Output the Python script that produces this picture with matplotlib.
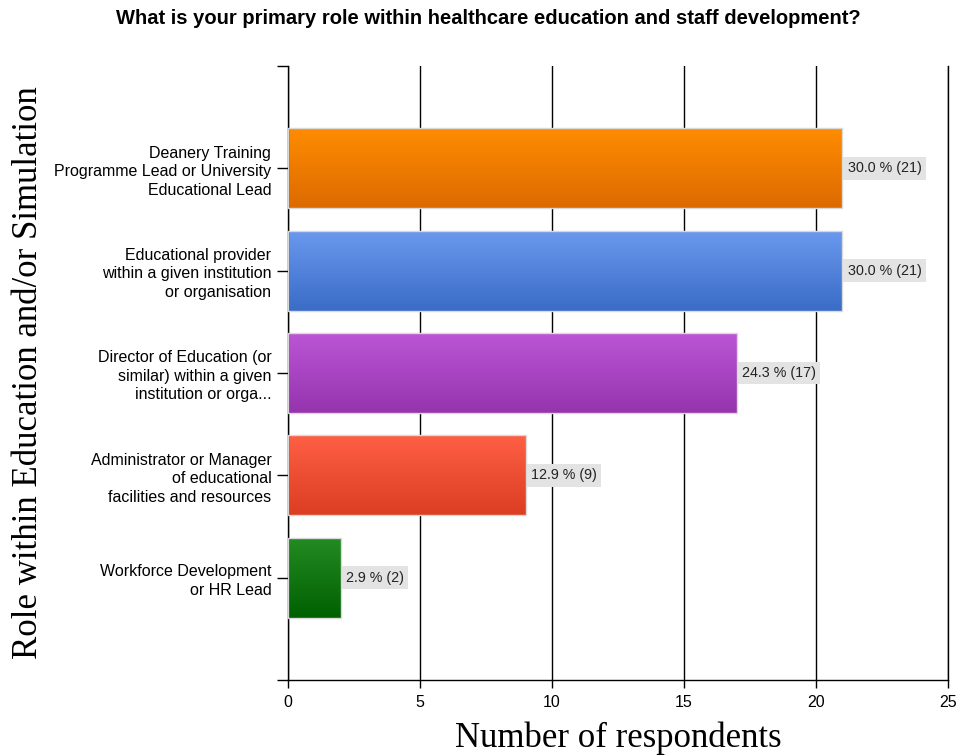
import numpy as np
import matplotlib.pyplot as plt
from matplotlib.colors import LinearSegmentedColormap

roles = [
    "Deanery Training\nProgramme Lead or University\nEducational Lead",
    "Educational provider\nwithin a given institution\nor organisation",
    "Director of Education (or\nsimilar) within a given\ninstitution or orga...",
    "Administrator or Manager\nof educational\nfacilities and resources",
    "Workforce Development\nor HR Lead",
]
counts = [21, 21, 17, 9, 2]
percents = [30.0, 30.0, 24.3, 12.9, 2.9]
# top / bottom shade of each bar
shades = [
    ("#ff8c00", "#dd6a00"),
    ("#6a98ee", "#3a6cc6"),
    ("#bb55d5", "#9534ad"),
    ("#fe5f45", "#db3e22"),
    ("#238b23", "#006000"),
]

fig = plt.figure(figsize=(9.6, 7.55), dpi=100)
ax = fig.add_axes([288 / 960, 1 - 680 / 755, 660 / 960, 614 / 755])

ypos = np.arange(1, len(roles) + 1)
bars = ax.barh(ypos, counts, height=0.78, facecolor="none",
               edgecolor="#d9d9d9", linewidth=1.0, zorder=3)

for bar, (top, bottom) in zip(bars, shades):
    x0, y0 = bar.get_x(), bar.get_y()
    w, h = bar.get_width(), bar.get_height()
    cmap = LinearSegmentedColormap.from_list("g", [top, bottom])
    grad = np.linspace(0, 1, 256).reshape(-1, 1)
    im = ax.imshow(grad, cmap=cmap, aspect="auto", origin="lower",
                   extent=(x0, x0 + w, y0, y0 + h), zorder=2)
    im.set_clip_path(bar)

for y, c, p in zip(ypos, counts, percents):
    ax.text(c + 0.2, y, f"{p:.1f} % ({c})", va="center", ha="left",
            fontsize=10.3, family="Liberation Sans", color="#222222",
            bbox=dict(boxstyle="square,pad=0.3", fc="#e3e3e3", ec="none"),
            zorder=4)

ax.set_xlim(0, 25)
ax.set_ylim(6, 0)
ax.set_xticks(range(0, 26, 5))
ax.set_yticks(ypos)
ax.set_yticklabels(roles, family="Liberation Sans", fontsize=11.5,
                   linespacing=1.3)
ax.set_yticks([0, 6], minor=True)
ax.tick_params(axis="y", which="both", length=8, width=1, pad=4)
ax.tick_params(axis="x", length=6, width=1, labelsize=11.5, pad=5)
for lbl in ax.get_xticklabels():
    lbl.set_family("Liberation Sans")

ax.grid(axis="x", color="black", linewidth=1, zorder=1)
ax.spines["top"].set_visible(False)
for side in ["left", "right", "bottom"]:
    ax.spines[side].set_linewidth(1)
    ax.spines[side].set_color("black")

ax.set_xlabel("Number of respondents", family="Liberation Serif",
              fontsize=25, labelpad=8)
ax.set_ylabel("Role within Education and/or Simulation",
              family="Liberation Serif", fontsize=25)
ax.yaxis.set_label_coords(-243 / 660, 0.5)

fig.text(488 / 960, 1 - 19 / 755,
         "What is your primary role within healthcare education and staff development?",
         ha="center", va="center", fontsize=14.5, fontweight="bold",
         family="Liberation Sans")

fig.savefig("out.png", dpi=100)
